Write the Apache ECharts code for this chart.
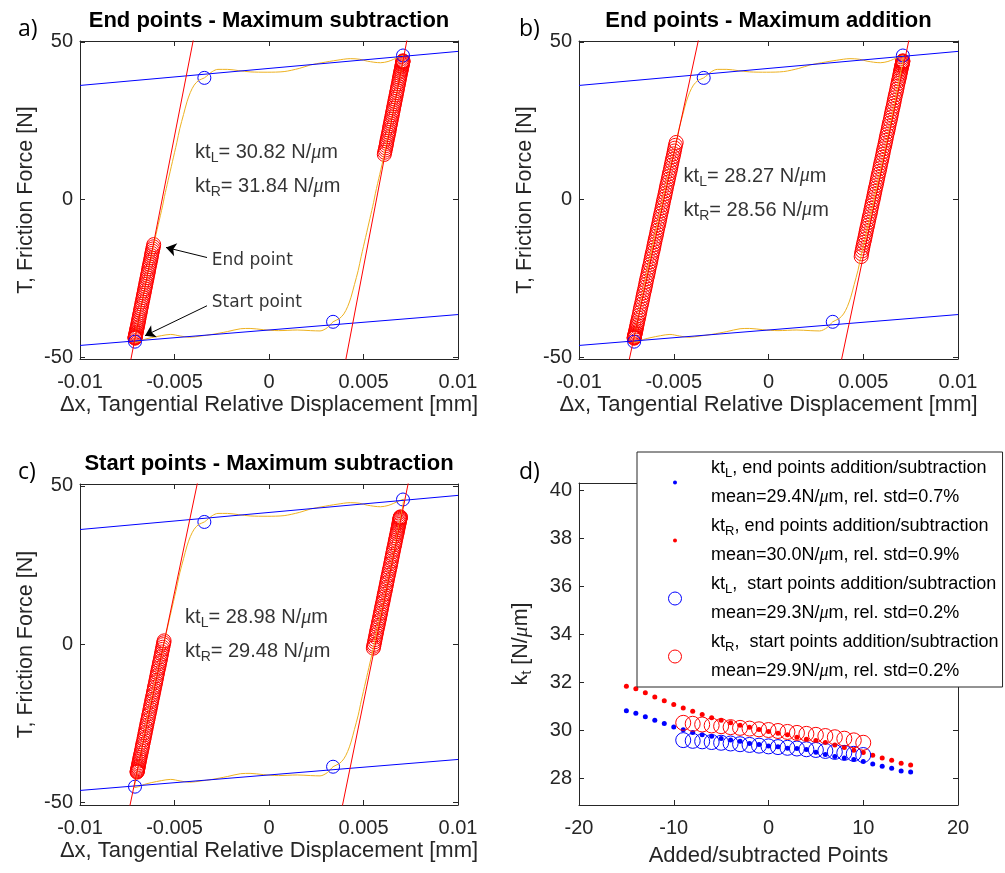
<!DOCTYPE html>
<html>
<head>
<meta charset="utf-8">
<script src="https://cdn.jsdelivr.net/npm/echarts@6/dist/echarts.min.js"></script>
<style>
html, body { margin: 0; padding: 0; background: #fff; }
#chart { width: 1005px; height: 873px; }
</style>
</head>
<body>
<div id="chart"></div>
<script>
// measured hysteresis loop (same in a, b, c), [dx mm, T N]
const loopXY = [
    [-0.00712, -45.3], [-0.00709, -44.0], [-0.00698, -40.5], [-0.00680, -35.0], [-0.00660, -29.0],
    [-0.00640, -23.0], [-0.00619, -17.0], [-0.00610, -14.3], [-0.00586, -8.0], [-0.00563, -2.0],
    [-0.00553, 1.0], [-0.00534, 6.0], [-0.00511, 12.0], [-0.00488, 18.0], [-0.00472, 22.5],
    [-0.00452, 27.0], [-0.00434, 31.0], [-0.00416, 34.0], [-0.00396, 36.3], [-0.00372, 37.8],
    [-0.00342, 38.6], [-0.00300, 40.6], [-0.00270, 41.3], [-0.00220, 41.3], [-0.00160, 40.9],
    [-0.00100, 40.5], [-0.00010, 40.4], [0.00080, 40.6], [0.00160, 41.6], [0.00220, 42.7],
    [0.00280, 43.4], [0.00360, 44.2], [0.00430, 44.7], [0.00480, 44.5], [0.00520, 43.9],
    [0.00590, 43.4], [0.00630, 43.8], [0.00660, 44.5], [0.00690, 45.3], [0.00711, 45.8],
    [0.00709, 44.0], [0.00698, 40.5], [0.00680, 35.0], [0.00660, 29.0], [0.00640, 23.0],
    [0.00619, 17.0], [0.00610, 14.3], [0.00586, 8.0], [0.00563, 2.0], [0.00553, -1.0],
    [0.00534, -6.0], [0.00511, -12.0], [0.00488, -18.0], [0.00472, -22.5], [0.00452, -27.0],
    [0.00434, -31.0], [0.00416, -34.0], [0.00396, -36.3], [0.00372, -37.8], [0.00339, -38.8],
    [0.00310, -40.6], [0.00270, -41.7], [0.00220, -41.6], [0.00150, -41.4], [0.00050, -41.6],
    [-0.00030, -41.3], [-0.00100, -40.9], [-0.00150, -41.0], [-0.00220, -41.9], [-0.00300, -42.8],
    [-0.00360, -43.3], [-0.00420, -43.7], [-0.00470, -43.3], [-0.00520, -42.8], [-0.00570, -43.2],
    [-0.00620, -43.8], [-0.00660, -44.4], [-0.00690, -45.1], [-0.00712, -45.4]
];
const blueTop = [[-0.01, 36.2], [0.01, 47.0]];
const blueBottom = [[-0.01, -46.3], [0.01, -36.5]];
const cornerPts = [[-0.00342, 38.6], [0.00709, 45.7], [0.00339, -38.8], [-0.00709, -45.1]];

// fitted stiffness lines
const fitA_L = [[-0.00761, -60], [-0.00370, 60]];
const fitA_R = [[0.00377, -60], [0.00760, 60]];
const fitB_L = [[-0.00768, -60], [-0.00336, 60]];
const fitB_R = [[0.00353, -60], [0.00774, 60]];
const fitC_L = [[-0.00767, -60], [-0.00347, 60]];
const fitC_R = [[0.00358, -60], [0.00768, 60]];

// points used for the fits (red circles)
const clusterA_Lx = [-0.00709,-0.00709,-0.00708,-0.00708,-0.00707,-0.00706,-0.00705,-0.00704,-0.00702,-0.00701,-0.00699,-0.00697,-0.00695,-0.00693,-0.00691,-0.00689,-0.00687,-0.00685,-0.00682,-0.00680,-0.00678,-0.00675,-0.00673,-0.00671,-0.00668,-0.00666,-0.00664,-0.00661,-0.00659,-0.00657,-0.00654,-0.00652,-0.00650,-0.00647,-0.00645,-0.00643,-0.00640,-0.00638,-0.00636,-0.00634,-0.00631,-0.00629,-0.00626,-0.00624,-0.00622,-0.00620,-0.00617,-0.00615,-0.00612,-0.00610];
const clusterA_Ly = [-44.0,-43.9,-43.8,-43.6,-43.4,-43.1,-42.8,-42.4,-42.0,-41.5,-41.0,-40.5,-39.9,-39.3,-38.7,-38.1,-37.4,-36.7,-36.0,-35.3,-34.6,-33.9,-33.2,-32.5,-31.8,-31.1,-30.4,-29.7,-29.0,-28.3,-27.6,-26.9,-26.2,-25.5,-24.8,-24.1,-23.4,-22.7,-22.0,-21.3,-20.6,-19.9,-19.2,-18.5,-17.8,-17.1,-16.4,-15.7,-15.0,-14.3];
const clusterA_Rx = [0.00709,0.00709,0.00708,0.00708,0.00707,0.00706,0.00705,0.00704,0.00702,0.00701,0.00699,0.00697,0.00695,0.00693,0.00691,0.00689,0.00687,0.00685,0.00682,0.00680,0.00678,0.00675,0.00673,0.00671,0.00668,0.00666,0.00664,0.00661,0.00659,0.00657,0.00654,0.00652,0.00650,0.00647,0.00645,0.00643,0.00640,0.00638,0.00636,0.00634,0.00631,0.00629,0.00626,0.00624,0.00622,0.00620,0.00617,0.00615,0.00612,0.00610];
const clusterA_Ry = [44.0,43.9,43.8,43.6,43.4,43.1,42.8,42.4,42.0,41.5,41.0,40.5,39.9,39.3,38.7,38.1,37.4,36.7,36.0,35.3,34.6,33.9,33.2,32.5,31.8,31.1,30.4,29.7,29.0,28.3,27.6,26.9,26.2,25.5,24.8,24.1,23.4,22.7,22.0,21.3,20.6,19.9,19.2,18.5,17.8,17.1,16.4,15.7,15.0,14.3];
const clusterB_Lx = [-0.00709,-0.00709,-0.00708,-0.00708,-0.00707,-0.00706,-0.00705,-0.00703,-0.00702,-0.00700,-0.00698,-0.00696,-0.00694,-0.00692,-0.00689,-0.00686,-0.00683,-0.00680,-0.00677,-0.00674,-0.00670,-0.00667,-0.00664,-0.00661,-0.00658,-0.00654,-0.00651,-0.00648,-0.00645,-0.00642,-0.00638,-0.00635,-0.00632,-0.00629,-0.00625,-0.00622,-0.00619,-0.00616,-0.00613,-0.00609,-0.00606,-0.00603,-0.00600,-0.00597,-0.00593,-0.00590,-0.00587,-0.00584,-0.00580,-0.00577,-0.00574,-0.00571,-0.00568,-0.00564,-0.00561,-0.00558,-0.00555,-0.00552,-0.00548,-0.00545,-0.00542,-0.00539,-0.00536,-0.00532,-0.00529,-0.00526,-0.00523,-0.00519,-0.00516,-0.00513,-0.00510,-0.00507,-0.00503,-0.00500,-0.00497,-0.00494,-0.00491,-0.00487];
const clusterB_Ly = [-44.0,-43.9,-43.8,-43.6,-43.4,-43.1,-42.8,-42.4,-42.0,-41.5,-41.0,-40.4,-39.8,-39.1,-38.4,-37.6,-36.8,-35.9,-35.0,-34.1,-33.2,-32.3,-31.4,-30.5,-29.6,-28.7,-27.8,-26.9,-26.0,-25.1,-24.2,-23.3,-22.4,-21.5,-20.6,-19.7,-18.8,-17.9,-17.0,-16.1,-15.2,-14.3,-13.4,-12.5,-11.6,-10.7,-9.8,-8.9,-8.0,-7.1,-6.2,-5.3,-4.4,-3.5,-2.6,-1.7,-0.8,0.1,1.0,1.9,2.8,3.7,4.6,5.5,6.4,7.3,8.2,9.1,10.0,10.9,11.8,12.7,13.6,14.5,15.4,16.3,17.2,18.1];
const clusterB_Rx = [0.00709,0.00709,0.00708,0.00708,0.00707,0.00706,0.00705,0.00703,0.00702,0.00700,0.00698,0.00696,0.00694,0.00692,0.00689,0.00686,0.00683,0.00680,0.00677,0.00674,0.00670,0.00667,0.00664,0.00661,0.00658,0.00654,0.00651,0.00648,0.00645,0.00642,0.00638,0.00635,0.00632,0.00629,0.00625,0.00622,0.00619,0.00616,0.00613,0.00609,0.00606,0.00603,0.00600,0.00597,0.00593,0.00590,0.00587,0.00584,0.00580,0.00577,0.00574,0.00571,0.00568,0.00564,0.00561,0.00558,0.00555,0.00552,0.00548,0.00545,0.00542,0.00539,0.00536,0.00532,0.00529,0.00526,0.00523,0.00519,0.00516,0.00513,0.00510,0.00507,0.00503,0.00500,0.00497,0.00494,0.00491,0.00489];
const clusterB_Ry = [44.0,43.9,43.8,43.6,43.4,43.1,42.8,42.4,42.0,41.5,41.0,40.4,39.8,39.1,38.4,37.6,36.8,35.9,35.0,34.1,33.2,32.3,31.4,30.5,29.6,28.7,27.8,26.9,26.0,25.1,24.2,23.3,22.4,21.5,20.6,19.7,18.8,17.9,17.0,16.1,15.2,14.3,13.4,12.5,11.6,10.7,9.8,8.9,8.0,7.1,6.2,5.3,4.4,3.5,2.6,1.7,0.8,-0.1,-1.0,-1.9,-2.8,-3.7,-4.6,-5.5,-6.4,-7.3,-8.2,-9.1,-10.0,-10.9,-11.8,-12.7,-13.6,-14.5,-15.4,-16.3,-17.2,-18.1];
const clusterC_Lx = [-0.00698,-0.00698,-0.00697,-0.00696,-0.00695,-0.00694,-0.00693,-0.00691,-0.00690,-0.00688,-0.00686,-0.00684,-0.00682,-0.00680,-0.00677,-0.00675,-0.00672,-0.00670,-0.00668,-0.00665,-0.00662,-0.00660,-0.00657,-0.00655,-0.00652,-0.00650,-0.00647,-0.00645,-0.00642,-0.00639,-0.00637,-0.00634,-0.00631,-0.00629,-0.00626,-0.00624,-0.00621,-0.00619,-0.00616,-0.00613,-0.00611,-0.00608,-0.00606,-0.00603,-0.00600,-0.00598,-0.00595,-0.00593,-0.00590,-0.00588,-0.00585,-0.00582,-0.00580,-0.00577,-0.00574,-0.00572,-0.00569,-0.00567,-0.00564,-0.00562,-0.00559,-0.00557,-0.00555];
const clusterC_Ly = [-40.5,-40.4,-40.2,-40.0,-39.7,-39.4,-39.0,-38.6,-38.1,-37.6,-37.0,-36.4,-35.8,-35.2,-34.5,-33.8,-33.1,-32.4,-31.7,-31.0,-30.2,-29.5,-28.7,-28.0,-27.2,-26.5,-25.7,-25.0,-24.2,-23.5,-22.7,-22.0,-21.2,-20.5,-19.7,-19.0,-18.2,-17.5,-16.7,-16.0,-15.2,-14.5,-13.7,-13.0,-12.2,-11.5,-10.7,-10.0,-9.2,-8.5,-7.7,-7.0,-6.2,-5.5,-4.7,-4.0,-3.2,-2.5,-1.7,-1.0,-0.2,0.4,1.0];
const clusterC_Rx = [0.00695,0.00695,0.00694,0.00693,0.00692,0.00691,0.00690,0.00688,0.00687,0.00685,0.00683,0.00681,0.00679,0.00677,0.00674,0.00672,0.00669,0.00667,0.00665,0.00662,0.00659,0.00657,0.00654,0.00652,0.00649,0.00647,0.00644,0.00642,0.00639,0.00636,0.00634,0.00631,0.00628,0.00626,0.00623,0.00621,0.00618,0.00616,0.00613,0.00610,0.00608,0.00605,0.00603,0.00600,0.00597,0.00595,0.00592,0.00590,0.00587,0.00585,0.00582,0.00579,0.00577,0.00574,0.00571,0.00569,0.00566,0.00564,0.00561,0.00559,0.00556,0.00554,0.00552];
const clusterC_Ry = [40.2,40.1,39.9,39.7,39.4,39.1,38.7,38.3,37.8,37.3,36.7,36.1,35.5,34.9,34.2,33.5,32.8,32.1,31.4,30.7,29.9,29.2,28.4,27.7,26.9,26.2,25.4,24.7,23.9,23.2,22.4,21.7,20.9,20.2,19.4,18.7,17.9,17.2,16.4,15.7,14.9,14.2,13.4,12.7,11.9,11.2,10.4,9.7,8.9,8.2,7.4,6.7,5.9,5.2,4.4,3.7,2.9,2.2,1.4,0.7,-0.1,-0.7,-1.3];

const ktText = [['30.82', '31.84'], ['28.27', '28.56'], ['28.98', '29.48']];
const titles = ['End points - Maximum subtraction', 'End points - Maximum addition', 'Start points - Maximum subtraction'];
const yTicksLoop = [-50, 0, 50];

// panel d
const addPts = [-15,-14,-13,-12,-11,-10,-9,-8,-7,-6,-5,-4,-3,-2,-1,0,1,2,3,4,5,6,7,8,9,10,11,12,13,14,15];
const ktL_end = [30.82,30.72,30.57,30.43,30.29,30.15,30.03,29.92,29.82,29.76,29.67,29.61,29.55,29.46,29.42,29.36,29.32,29.26,29.25,29.21,29.10,29.00,28.92,28.86,28.79,28.71,28.61,28.51,28.43,28.32,28.27];
const ktR_end = [31.84,31.74,31.57,31.39,31.24,31.08,30.94,30.80,30.67,30.53,30.43,30.32,30.22,30.14,30.04,29.96,29.89,29.82,29.72,29.64,29.58,29.50,29.40,29.29,29.18,29.08,28.97,28.86,28.76,28.64,28.56];
const startPts = [-9,-8,-7,-6,-5,-4,-3,-2,-1,0,1,2,3,4,5,6,7,8,9,10];
const ktL_start = [29.60,29.57,29.55,29.52,29.49,29.46,29.43,29.40,29.37,29.34,29.31,29.28,29.25,29.22,29.19,29.15,29.11,29.07,29.03,28.98];
const ktR_start = [30.32,30.28,30.25,30.21,30.18,30.14,30.11,30.08,30.05,30.02,29.98,29.94,29.90,29.86,29.82,29.77,29.72,29.66,29.59,29.49];
const yTicksKt = [28, 30, 32, 34, 36, 38, 40];
const legendLines = {
    'ktL_end': ['L', ', end points addition/subtraction', 'mean=29.4N/', 'm, rel. std=0.7%'],
    'ktR_end': ['R', ', end points addition/subtraction', 'mean=30.0N/', 'm, rel. std=0.9%'],
    'ktL_start': ['L', ',  start points addition/subtraction', 'mean=29.3N/', 'm, rel. std=0.2%'],
    'ktR_start': ['R', ',  start points addition/subtraction', 'mean=29.9N/', 'm, rel. std=0.2%']
};

function pairs(xs, ys) {
    let out = [];
    for (let i = 0; i < xs.length; i++) out.push([xs[i], ys[i]]);
    return out;
}

const FONT = '"Liberation Sans", Arial, sans-serif';
const AXC = '#262626';
const ORANGE = '#EDB120', BLUE = '#0000FF', RED = '#FF0000';

let myChart = echarts.init(document.getElementById('chart'));

const grids = [
    {left: 80, top: 41, width: 378, height: 318},
    {left: 579, top: 41, width: 379, height: 318},
    {left: 80, top: 484, width: 378, height: 321},
    {left: 579, top: 483, width: 379, height: 322}
];
const yRange = [[-50.6, 50.3], [-50.6, 50.3], [-50.9, 50.6], [26.9, 40.3]];

const subRich = {
    a: {fontSize: 21.5, fontFamily: FONT, color: AXC},
    s: {fontSize: 15, fontFamily: FONT, color: AXC, padding: [10, 0, 0, 0]},
    m: {fontSize: 21.5, fontFamily: '"Liberation Serif", serif', fontStyle: 'italic', color: AXC}
};

let xAxes = [], yAxes = [];
function addAxes(g, xmin, xmax, xint, yTicks, xName, yName, xGap, yGap, xFmt) {
    const line = {show: true, onZero: false, lineStyle: {color: AXC, width: 1}};
    const tick = {show: true, inside: true, length: 5, lineStyle: {color: AXC}};
    xAxes.push({
        type: 'value', gridIndex: g, position: 'bottom', min: xmin, max: xmax, interval: xint,
        axisLine: line, axisTick: tick, splitLine: {show: false},
        axisLabel: {margin: 13, color: AXC, fontSize: 20, fontFamily: FONT, formatter: xFmt},
        name: xName, nameLocation: 'middle', nameGap: xGap,
        nameTextStyle: {fontSize: 22, fontFamily: FONT, color: AXC}
    });
    xAxes.push({
        type: 'value', gridIndex: g, position: 'top', min: xmin, max: xmax, interval: xint,
        axisLine: line, axisTick: tick, splitLine: {show: false}, axisLabel: {show: false}
    });
    yAxes.push({
        type: 'value', gridIndex: g, position: 'left', min: yRange[g][0], max: yRange[g][1],
        axisLine: line, axisTick: Object.assign({customValues: yTicks}, tick), splitLine: {show: false},
        axisLabel: {customValues: yTicks, margin: 7, color: AXC, fontSize: 20, fontFamily: FONT},
        name: yName, nameLocation: 'middle', nameRotate: 90, nameGap: yGap,
        nameTextStyle: {fontSize: 21.5, fontFamily: FONT, color: AXC, rich: subRich}
    });
    yAxes.push({
        type: 'value', gridIndex: g, position: 'right', min: yRange[g][0], max: yRange[g][1],
        axisLine: line, axisTick: Object.assign({customValues: yTicks}, tick), splitLine: {show: false},
        axisLabel: {show: false}
    });
}

const loopFmt = v => String(Math.round(v * 1000) / 1000);
const xNameLoop = '\u0394x, Tangential Relative Displacement [mm]';
const yNameLoop = 'T, Friction Force [N]';
addAxes(0, -0.01, 0.01, 0.005, yTicksLoop, xNameLoop, yNameLoop, 35, 43, loopFmt);
addAxes(1, -0.01, 0.01, 0.005, yTicksLoop, xNameLoop, yNameLoop, 35, 43, loopFmt);
addAxes(2, -0.01, 0.01, 0.005, yTicksLoop, xNameLoop, yNameLoop, 35, 43, loopFmt);
addAxes(3, -20, 20, 10, yTicksKt, 'Added/subtracted Points', '{a|k}{s|t}{a| [N/}{m|\u03bc}{a|m]}', 40, 45, null);

const ktRich = {
    a: {fontSize: 20, fontFamily: FONT, color: '#000'},
    s: {fontSize: 14, fontFamily: FONT, color: '#000', padding: [11, 0, 0, 0]},
    m: {fontSize: 20, fontFamily: '"Liberation Serif", serif', fontStyle: 'italic', color: '#000'}
};
function ktLabel(kt) {
    return '{a|kt}{s|L}{a|= ' + kt[0] + ' N/}{m|\u03bc}{a|m}\n{a|kt}{s|R}{a|= ' + kt[1] + ' N/}{m|\u03bc}{a|m}';
}

const ktAt = [[-0.00391, 9.6], [-0.00448, 2.0], [-0.00444, 2.9]];
const fits = [[fitA_L, fitA_R], [fitB_L, fitB_R], [fitC_L, fitC_R]];
const clusters = [
    pairs(clusterA_Lx, clusterA_Ly).concat(pairs(clusterA_Rx, clusterA_Ry)),
    pairs(clusterB_Lx, clusterB_Ly).concat(pairs(clusterB_Rx, clusterB_Ry)),
    pairs(clusterC_Lx, clusterC_Ly).concat(pairs(clusterC_Rx, clusterC_Ry))
];

let series = [];
for (let p = 0; p < 3; p++) {
    const ax = {xAxisIndex: 2 * p, yAxisIndex: 2 * p, silent: true};
    const lineOf = (data, color) => Object.assign({
        type: 'line', data: data, symbol: 'none', lineStyle: {color: color, width: 1}
    }, ax);
    series.push(Object.assign(lineOf(loopXY, ORANGE), {smooth: 0.3}));
    series.push(lineOf(blueTop, BLUE));
    series.push(lineOf(blueBottom, BLUE));
    series.push(lineOf(fits[p][0], RED));
    series.push(lineOf(fits[p][1], RED));
    series.push(Object.assign({
        type: 'scatter', data: clusters[p], symbolSize: 14,
        itemStyle: {color: 'rgba(0,0,0,0)', borderColor: RED, borderWidth: 1, opacity: 1}
    }, ax));
    series.push(Object.assign({
        type: 'scatter', data: cornerPts, symbolSize: 13,
        itemStyle: {color: 'rgba(0,0,0,0)', borderColor: BLUE, borderWidth: 1, opacity: 1}
    }, ax));
    let notes = [{
        value: ktAt[p],
        label: {show: true, position: 'right', distance: 0, lineHeight: 34, formatter: ktLabel(ktText[p]), rich: ktRich}
    }];
    let annot = Object.assign({type: 'scatter', symbolSize: 0, data: notes}, ax);
    if (p === 0) {
        const note = {show: true, position: 'right', distance: 0, fontSize: 17, color: '#000',
            fontFamily: '"DejaVu Sans", sans-serif'};
        notes.push({value: [-0.00303, -19.4], label: Object.assign({formatter: 'End point'}, note)});
        notes.push({value: [-0.00303, -32.7], label: Object.assign({formatter: 'Start point'}, note)});
        annot.markLine = {
            silent: true, animation: false, symbol: ['none', 'arrow'], symbolSize: 10,
            lineStyle: {color: '#000', width: 1, type: 'solid'}, label: {show: false},
            data: [
                [{coord: [-0.00328, -18.4]}, {coord: [-0.00545, -15.2]}],
                [{coord: [-0.00328, -33.7]}, {coord: [-0.00656, -43.2]}]
            ]
        };
    }
    series.push(annot);
}

// panel d
const axD = {xAxisIndex: 6, yAxisIndex: 6, silent: true};
series.push(Object.assign({type: 'scatter', name: 'ktL_end', data: pairs(addPts, ktL_end), symbolSize: 5,
    itemStyle: {color: BLUE, opacity: 1}}, axD));
series.push(Object.assign({type: 'scatter', name: 'ktR_end', data: pairs(addPts, ktR_end), symbolSize: 5,
    itemStyle: {color: RED, opacity: 1}}, axD));
series.push(Object.assign({type: 'scatter', name: 'ktL_start', data: pairs(startPts, ktL_start), symbolSize: 15,
    itemStyle: {color: 'rgba(0,0,0,0)', borderColor: BLUE, borderWidth: 1, opacity: 1}}, axD));
series.push(Object.assign({type: 'scatter', name: 'ktR_start', data: pairs(startPts, ktR_start), symbolSize: 15,
    itemStyle: {color: 'rgba(0,0,0,0)', borderColor: RED, borderWidth: 1, opacity: 1}}, axD));

const legRich = {
    a: {fontSize: 18, fontFamily: FONT, color: '#000'},
    s: {fontSize: 13, fontFamily: FONT, color: '#000', padding: [10, 0, 0, 0]},
    m: {fontSize: 18, fontFamily: '"Liberation Serif", serif', fontStyle: 'italic', color: '#000'}
};

let graphics = [];
for (let p = 0; p < 3; p++) {
    graphics.push({
        type: 'text', x: grids[p].left + grids[p].width / 2, y: grids[p].top - 20,
        style: {text: titles[p], font: 'bold 22px "Liberation Sans", Arial', fill: '#000', align: 'center', verticalAlign: 'middle'}
    });
}
['a)', 'b)', 'c)', 'd)'].forEach((t, i) => {
    graphics.push({
        type: 'text', x: i % 2 ? 519 : 18, y: i < 2 ? 29 : 472,
        style: {text: t, font: '23px "Open Sans", sans-serif', fill: '#000', align: 'left', verticalAlign: 'middle'}
    });
});

option = {
    animation: false,
    grid: grids.map(g => Object.assign({outerBoundsMode: 'none', containLabel: false}, g)),
    xAxis: xAxes,
    yAxis: yAxes,
    legend: {
        left: 637, top: 452, orient: 'vertical', itemGap: 0, itemWidth: 62, itemHeight: 13,
        padding: [1.5, 4, 1.5, 27], backgroundColor: '#fff', borderColor: AXC, borderWidth: 1,
        selectedMode: false,
        textStyle: {fontSize: 18, fontFamily: FONT, color: '#000', lineHeight: 29, rich: legRich},
        data: [
            {name: 'ktL_end', itemStyle: {color: BLUE, borderColor: '#fff', borderWidth: 9}},
            {name: 'ktR_end', itemStyle: {color: RED, borderColor: '#fff', borderWidth: 9}},
            {name: 'ktL_start', itemStyle: {color: 'rgba(0,0,0,0)', borderColor: BLUE, borderWidth: 1}},
            {name: 'ktR_start', itemStyle: {color: 'rgba(0,0,0,0)', borderColor: RED, borderWidth: 1}}
        ],
        formatter: function (name) {
            const t = legendLines[name];
            return '{a|kt}{s|' + t[0] + '}{a|' + t[1] + '}\n{a|' + t[2] + '}{m|\u03bc}{a|' + t[3] + '}';
        }
    },
    graphic: graphics,
    series: series
};

myChart.setOption(option);
</script>
</body>
</html>
